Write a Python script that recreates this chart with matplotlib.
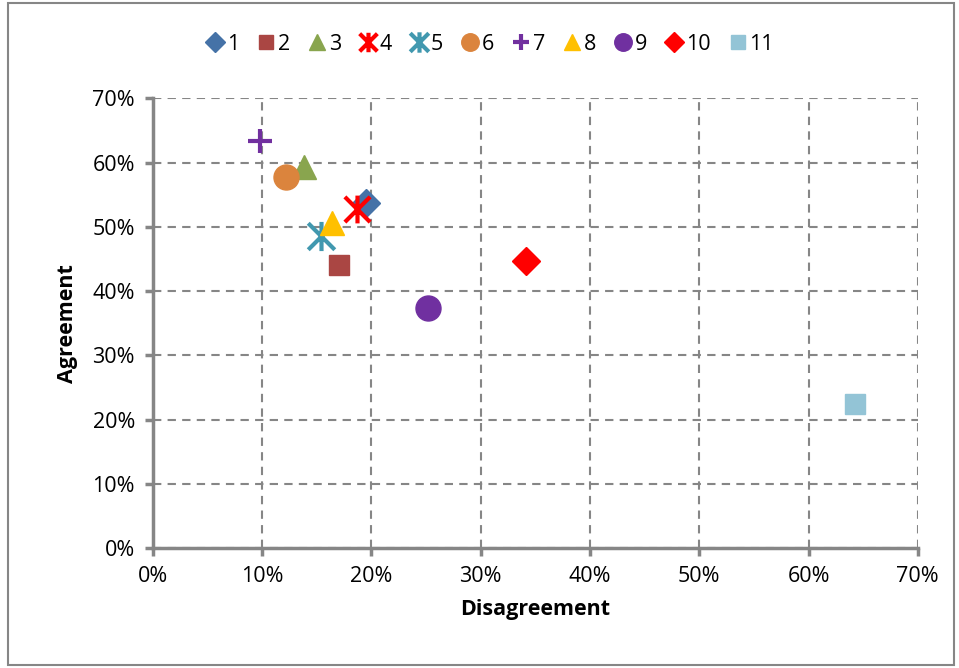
import matplotlib.pyplot as plt
from matplotlib.patches import Rectangle
from matplotlib.path import Path
from matplotlib.ticker import PercentFormatter

plt.rcParams['font.family'] = ['Open Sans', 'DejaVu Sans']

# disagreement / agreement shares per item
labels = ['1', '2', '3', '4', '5', '6', '7', '8', '9', '10', '11']
disagree = [19.5, 17.0, 13.8, 18.7, 15.4, 12.2, 9.8, 16.4, 25.2, 34.1, 64.3]
agree = [53.7, 44.0, 59.3, 52.8, 48.6, 57.8, 63.4, 50.6, 37.4, 44.7, 22.4]

# star marker: an X with a vertical bar through it
star = Path([(-1, -1), (1, 1), (-1, 1), (1, -1), (0, -1.1), (0, 1.1)],
            [Path.MOVETO, Path.LINETO, Path.MOVETO, Path.LINETO, Path.MOVETO, Path.LINETO])

markers = ['D', 's', '^', star, star, 'o', '+', '^', 'o', 'D', 's']
colors = ['#4572A7', '#AA4643', '#89A54E', '#FF0000', '#4198AF', '#DB843D',
          '#71309F', '#FFC000', '#7030A0', '#FF0000', '#93C4D6']
sizes = [14, 14, 17, 20, 21, 18, 17, 17, 18, 14, 14]
lined = [False, False, False, True, True, False, True, False, False, False, False]

fig = plt.figure(figsize=(9.59, 6.68), dpi=100)
ax = fig.add_axes([0.1595, 0.179, 0.7975, 0.674])

for i in range(len(labels)):
    if lined[i]:
        ax.plot(disagree[i], agree[i], linestyle='none', marker=markers[i], color=colors[i],
                markersize=sizes[i], markeredgewidth=3, label=labels[i])
    else:
        ax.plot(disagree[i], agree[i], linestyle='none', marker=markers[i], color=colors[i],
                markeredgecolor=colors[i], markersize=sizes[i], label=labels[i])

ax.set_xlim(0, 70)
ax.set_ylim(0, 70)
ax.set_xticks(range(0, 71, 10))
ax.set_yticks(range(0, 71, 10))
ax.xaxis.set_major_formatter(PercentFormatter(decimals=0))
ax.yaxis.set_major_formatter(PercentFormatter(decimals=0))
ax.grid(True, linestyle=(0, (4, 3)), color='#868686', linewidth=1.5)
ax.set_axisbelow(True)
for s in ['top', 'right']:
    ax.spines[s].set_visible(False)
for s in ['left', 'bottom']:
    ax.spines[s].set_color('#868686')
    ax.spines[s].set_linewidth(2.5)
ax.tick_params(axis='both', colors='#868686', width=2.5, length=6, labelsize=15.5,
               labelcolor='black', pad=7)

ax.set_xlabel('Disagreement', fontsize=15.5, fontweight='bold', labelpad=8)
ax.set_ylabel('Agreement', fontsize=15.5, fontweight='bold', labelpad=10)

leg = fig.legend(loc='center', bbox_to_anchor=(0.51, 0.934), ncol=11, frameon=False,
                 fontsize=15.5, handletextpad=0.05, columnspacing=0.75,
                 markerscale=0.7, handlelength=1.0)

fig.patches.append(Rectangle((8 / 959, 3 / 668), 946 / 959, 662 / 668,
                             transform=fig.transFigure, fill=False,
                             edgecolor='#868686', linewidth=1.5))

fig.savefig('out.png', dpi=100)
